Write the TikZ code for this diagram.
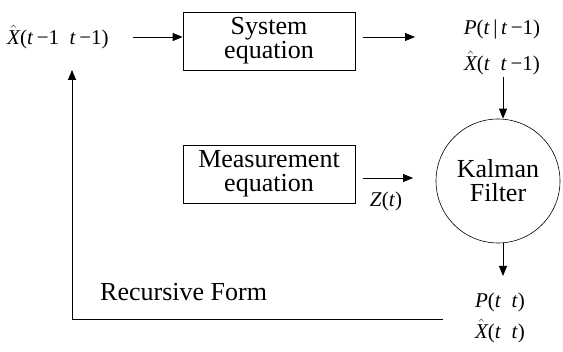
\documentclass[tikz,border=0pt]{standalone}
\usepackage{fontspec}
\setmainfont{Liberation Serif}
\usetikzlibrary{arrows.meta}
\newcommand{\vi}[1]{\textit{#1}}
\newcommand{\xhat}{$\hat{\hbox{\itshape X}}$}
\tikzset{
  blk/.style={draw, line width=0.6pt, minimum width=172pt, minimum height=58pt, align=center, font=\fontsize{26}{27}\selectfont, inner sep=0pt},
  lbl/.style={font=\fontsize{21}{22}\selectfont, inner sep=1pt},
  arr/.style={line width=0.9pt, -{Triangle[length=10pt,width=8pt]}},
  ln/.style={line width=0.9pt}
}
\begin{document}
\begin{tikzpicture}[x=1pt,y=-1pt]
\useasboundingbox (0,0) rectangle (563,352);
\node[lbl, anchor=west] (xin) at (6,37) {\xhat(\vi{t}\,−1\enspace\vi{t}\,−1)};
\node[blk] (sys) at (269,41) {System\\[-3pt]equation};
\node[blk] (meas) at (269,174) {Measurement\\[-3pt]equation};
\node[circle, draw, line width=0.6pt, minimum size=124pt, align=center, font=\fontsize{26}{27}\selectfont, inner sep=0pt] (kf) at (498,181) {Kalman\\[-3pt]Filter};
\node[lbl] (p1) at (502,29) {\vi{P}(\vi{t}\,|\,\vi{t}\,−1)};
\node[lbl] (x1) at (502,63) {\xhat(\vi{t}\enspace\vi{t}\,−1)};
\node[lbl] (z) at (386,201) {\vi{Z}(\vi{t})};
\node[lbl] (p2) at (500,302) {\vi{P}(\vi{t}\enspace\vi{t})};
\node[lbl] (x2) at (500,331) {\xhat(\vi{t}\enspace\vi{t})};
\node[font=\fontsize{26}{27}\selectfont, anchor=west, inner sep=0pt] (rf) at (100,292) {Recursive Form};
\coordinate (a1s) at (133,37);
\coordinate (a2s) at (363,37);
\coordinate (a2e) at (415,37);
\coordinate (a3s) at (503,77);
\coordinate (a4s) at (363,178);
\coordinate (a4e) at (413,178);
\coordinate (a5e) at (503,276);
\coordinate (fbR) at (443,319);
\coordinate (fbL) at (72,319);
\coordinate (fbT) at (72,70);
\draw[arr] (a1s) -- (sys.west |- a1s);
\draw[arr] (a2s) -- (a2e);
\draw[arr] (a3s) -- (a3s |- kf.north);
\draw[arr] (a4s) -- (a4e);
\draw[arr] (a5e |- kf.south) -- (a5e);
\draw[ln] (fbR) -- (fbL);
\draw[arr] (fbL) -- (fbT);
\end{tikzpicture}
\end{document}
